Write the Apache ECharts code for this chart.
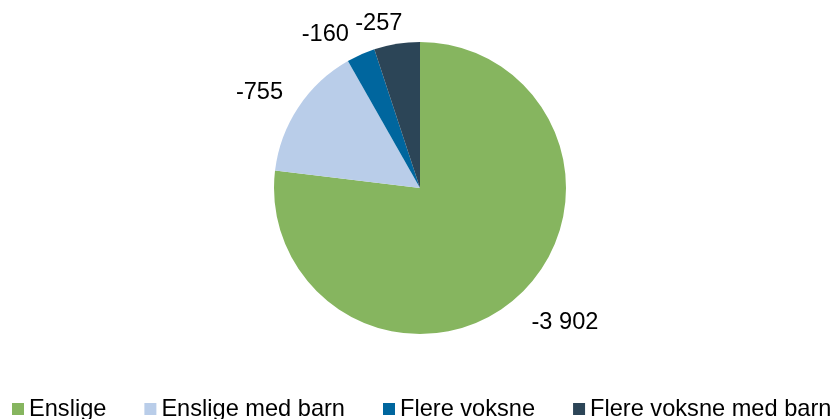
<!DOCTYPE html>
<html><head><meta charset="utf-8">
<script src="https://cdn.jsdelivr.net/npm/echarts@6/dist/echarts.min.js"></script>
<style>html,body{margin:0;padding:0;background:#fff}#c{width:838px;height:419px}</style>
</head><body><div id="c"></div>
<script>
const categories = ['Enslige', 'Enslige med barn', 'Flere voksne', 'Flere voksne med barn'];
const values = [-3902, -755, -160, -257];
const colors = ['#86B55F', '#B9CDE9', '#00669E', '#2C4557'];
// small label nudges (style only)
const labelNudge = [[-5, 9], [8, -2], [2, 0], [14, 1]];

function fmt(v){
  const s = Math.abs(v).toString().replace(/\B(?=(\d{3})+(?!\d))/g, ' ');
  return (v < 0 ? '-' : '') + s;
}
const chart = echarts.init(document.getElementById('c'), null, {renderer:'canvas'});
chart.setOption({
  animation:false,
  textStyle:{fontFamily:'Liberation Sans, Arial, sans-serif'},
  legend:{
    top:397, left:12, width:900, padding:0,
    itemWidth:12, itemHeight:12, itemGap:38,
    icon:'rect',
    textStyle:{fontSize:23.6, color:'#000'},
    data:categories
  },
  series:[{
    type:'pie',
    center:[420,188],
    radius:146,
    startAngle:90,
    clockwise:true,
    avoidLabelOverlap:false,
    label:{show:true, position:'outside', fontSize:23.6, color:'#000',
      formatter:p=>fmt(values[p.dataIndex])},
    labelLine:{show:false, length:22, length2:0},
    labelLayout:function(p){
      const n = labelNudge[p.dataIndex] || [0,0];
      return {dx:n[0], dy:n[1], hideOverlap:false};
    },
    itemStyle:{borderWidth:0},
    data:categories.map((c,i)=>({name:c, value:Math.abs(values[i]), itemStyle:{color:colors[i]}}))
  }]
});
</script></body></html>
